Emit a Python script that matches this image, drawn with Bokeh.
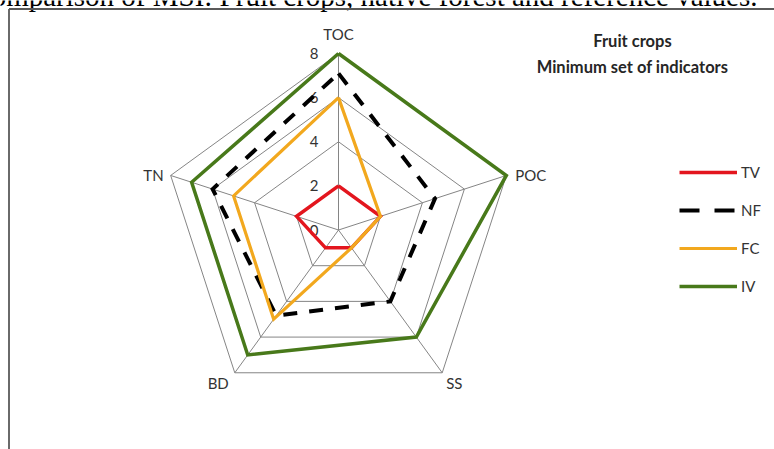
import math
from bokeh.plotting import figure
from bokeh.models import Range1d, Legend, LegendItem, ColumnDataSource
from bokeh.core.properties import value
from bokeh.embed import file_html
from bokeh.resources import INLINE

# ---- data ----
categories = ["TOC", "POC", "SS", "BD", "TN"]
tick_values = [0, 2, 4, 6, 8]
tick_labels = ["0", "2", "4", "6", "8"]
series_names = ["TV", "NF", "FC", "IV"]
tv = [2.0, 2.0, 1.0, 1.0, 2.0]
nf = [7.1, 4.6, 4.0, 4.8, 6.0]
fc = [6.0, 2.0, 1.0, 5.0, 5.0]
iv = [8.0, 8.0, 6.0, 7.0, 7.0]
title_lines = ["Fruit crops", "Minimum set of indicators"]
caption = "Comparison of MSI: Fruit crops, native forest and reference values."

# ---- layout ----
W, H = 774, 449
S = 22.06            # px per unit
CX, CY = 338, 229.5  # centre in page px (from top-left)
FONT = "Lato"

p = figure(width=W, height=H, output_backend="svg", toolbar_location=None,
           x_range=Range1d(-CX / S, (W - CX) / S),
           y_range=Range1d(-(H - CY) / S, CY / S),
           min_border=0)
p.axis.visible = False
p.grid.visible = False
p.outline_line_color = None
p.background_fill_color = "white"


def P(px, py):
    return (px - CX) / S, (CY - py) / S


n = len(categories)
ang = [2 * math.pi * k / n for k in range(n)]


def xy(vals):
    xs = [v * math.sin(a) for v, a in zip(vals, ang)]
    ys = [v * math.cos(a) for v, a in zip(vals, ang)]
    return xs + xs[:1], ys + ys[:1]


# grid rings and spokes
gmax = tick_values[-1]
for t in tick_values[1:]:
    xs, ys = xy([t] * n)
    p.line(xs, ys, line_color="#858585", line_width=1)
for a in ang:
    p.line([0, gmax * math.sin(a)], [0, gmax * math.cos(a)], line_color="#858585", line_width=1)

# tick labels along the TOC axis
p.text(x=[0] * len(tick_values), y=tick_values, text=tick_labels,
       x_offset=-20, text_align="right", text_baseline="middle",
       text_font=value(FONT), text_font_size="15px", text_color="#333333")

# series
styles = {
    "TV": dict(line_color="#E3161E", line_width=3.5),
    "NF": dict(line_color="#000000", line_width=4, line_dash="14 12"),
    "FC": dict(line_color="#F2A81E", line_width=3.2),
    "IV": dict(line_color="#48791A", line_width=3.5),
}
renders = {}
for name, vals in zip(series_names, [tv, nf, fc, iv]):
    xs, ys = xy(vals)
    renders[name] = p.line(xs, ys, line_join="miter", **styles[name])

# category labels
cx = [gmax * math.sin(a) for a in ang]
cy = [gmax * math.cos(a) for a in ang]
xo = [0, 9, 4, -6, -7]
yo = [-20, 0, 10, 10, 0]
al = ["center", "left", "left", "right", "right"]
src = ColumnDataSource(dict(x=cx, y=cy, t=categories, xo=xo, yo=yo, al=al))
p.text(x="x", y="y", text="t", x_offset="xo", y_offset="yo", text_align="al",
       text_baseline="middle", source=src, text_font=value(FONT),
       text_font_size="15px", text_color="#333333")

# title (top right)
t1 = P(632, 40)
t2 = P(632, 66)
p.text(x=[t1[0], t2[0]], y=[t1[1], t2[1]], text=title_lines,
       text_align="center", text_baseline="middle", text_font=value(FONT),
       text_font_style="bold", text_font_size="16.5px", text_color="#262626")

# caption above the chart box (cut off at the top of the page, as in the source)
c = P(757, -5)
p.text(x=[c[0]], y=[c[1]], text=[caption], text_align="right",
       text_baseline="alphabetic", text_font=value("Liberation Serif"),
       text_font_size="29px", text_color="#000000")

# legend (off-range dummy renderer for the dashed key)
far = P(2000, 2000)
nf_key = p.line([far[0], far[0] + 1], [far[1], far[1]], line_color="#000000",
                line_width=4, line_dash="20 15")
items = [LegendItem(label="TV", renderers=[renders["TV"]]),
         LegendItem(label="NF", renderers=[nf_key]),
         LegendItem(label="FC", renderers=[renders["FC"]]),
         LegendItem(label="IV", renderers=[renders["IV"]])]
legend = Legend(items=items, location=(679, 153), glyph_width=58, glyph_height=20,
                spacing=18, padding=0, margin=0, label_standoff=4,
                label_text_font=FONT, label_text_font_size="15px",
                label_text_color="#333333", border_line_color=None,
                background_fill_alpha=0)
p.add_layout(legend, "center")

# chart box border (top and left)
a0 = P(8.5, 8.5)
a1 = P(W + 5, 8.5)
a2 = P(8.5, H + 5)
p.segment(x0=[a0[0], a0[0]], y0=[a0[1], a0[1]], x1=[a1[0], a2[0]], y1=[a1[1], a2[1]],
          line_color="#5a5a5a", line_width=1.8)

open("out.html", "w").write(file_html(p, INLINE))
